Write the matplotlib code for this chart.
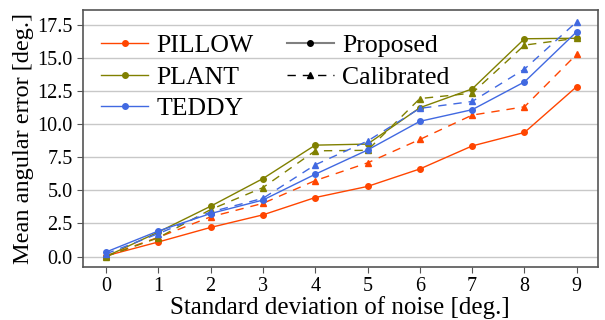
import matplotlib
matplotlib.use("Agg")
import matplotlib.pyplot as plt
from matplotlib.lines import Line2D

noise = [0, 1, 2, 3, 4, 5, 6, 7, 8, 9]
pillow_prop = [0.05, 1.10, 2.20, 3.15, 4.46, 5.30, 6.62, 8.36, 9.38, 12.85]
pillow_cal = [0.05, 1.45, 3.00, 4.02, 5.74, 7.08, 8.85, 10.69, 11.32, 15.30]
plant_prop = [0.00, 1.85, 3.80, 5.89, 8.42, 8.50, 11.25, 12.67, 16.46, 16.50]
plant_cal = [0.00, 1.42, 3.55, 5.21, 7.99, 8.03, 11.94, 12.35, 15.98, 16.50]
teddy_prop = [0.34, 1.93, 3.25, 4.27, 6.22, 8.05, 10.22, 11.10, 13.20, 17.00]
teddy_cal = [0.20, 1.73, 3.37, 4.40, 6.93, 8.73, 11.20, 11.72, 14.17, 17.75]

series = [
    ("PILLOW", "#FF4500", pillow_prop, pillow_cal),
    ("PLANT", "#808000", plant_prop, plant_cal),
    ("TEDDY", "#4169E1", teddy_prop, teddy_cal),
]

plt.rcParams['font.family'] = ['Liberation Serif', 'DejaVu Serif']

fig = plt.figure(figsize=(6.05, 3.2), dpi=100)
ax = fig.add_axes([0.137, 0.166, 0.851, 0.803])

handles = []
for name, col, prop, cal in series:
    h, = ax.plot(noise, prop, color=col, lw=1.0, marker='o', ms=4, label=name)
    ax.plot(noise, cal, color=col, lw=1.0, ls=(0, (6, 5)), marker='^', ms=4)
    handles.append(h)

handles.append(Line2D([], [], color='gray', lw=1.5, marker='o', ms=4,
                      markerfacecolor='black', markeredgecolor='black', label='Proposed'))
handles.append(Line2D([], [], color='black', lw=1.0, ls=(0, (6, 5)), marker='^', ms=4,
                      label='Calibrated'))

ax.set_xlim(-0.44, 9.40)
ax.set_ylim(-0.78, 18.64)
ax.set_xticks(noise)
ax.set_yticks([0, 2.5, 5, 7.5, 10, 12.5, 15, 17.5])
ax.set_yticklabels(["0.0", "2.5", "5.0", "7.5", "10.0", "12.5", "15.0", "17.5"])
ax.yaxis.grid(True, color='#c8c8c8', lw=1.0)
ax.set_axisbelow(True)
ax.tick_params(labelsize=14.5, color='#555555', length=4)
for s in ax.spines.values():
    s.set_color('#555555')
    s.set_linewidth(1.2)

ax.set_xlabel("Standard deviation of noise [deg.]", fontsize=18, labelpad=0)
ax.set_ylabel("Mean angular error [deg.]", fontsize=17.5, labelpad=2)

ax.legend(handles=handles, ncol=2, loc='upper left', frameon=False, fontsize=18.5,
          handlelength=1.85, handletextpad=0.3, columnspacing=1.3, labelspacing=0.32,
          borderaxespad=0.3, bbox_to_anchor=(0.0, 0.975))

fig.savefig("out.png", dpi=100)
